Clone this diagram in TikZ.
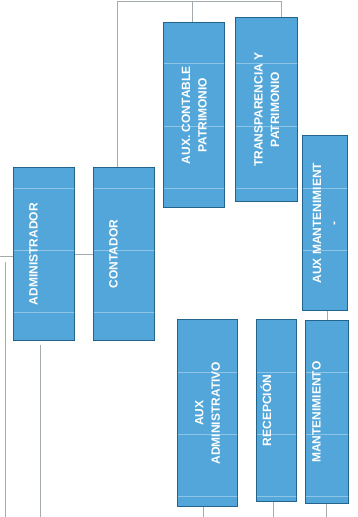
\documentclass[tikz,border=0pt]{standalone}
\usepackage{fontspec}
\setmainfont{Liberation Sans}
\definecolor{boxfill}{RGB}{82,166,217}
\definecolor{boxedge}{RGB}{34,100,140}
\definecolor{wire}{RGB}{165,172,176}
\begin{document}
\begin{tikzpicture}[x=1pt,y=-1pt,
  box/.style={draw=boxedge, fill=boxfill, line width=1.3pt, inner sep=0pt, anchor=north west},
  lbl/.style={rotate=90, text=white, align=center, font=\bfseries\fontsize{12}{16.5}\selectfont, inner sep=0pt},
  wirel/.style={draw=wire, line width=0.7pt},
  stripe/.style={draw=white, opacity=0.35, line width=0.9pt}]
\useasboundingbox (0,0) rectangle (358,517);
% boxes (north-west corner, size)
\node[box, minimum width=61, minimum height=173] (adm)  at (13,167) {};
\node[box, minimum width=61, minimum height=173] (cont) at (93,167) {};
\node[box, minimum width=61, minimum height=185] (auxc) at (163,22) {};
\node[box, minimum width=62, minimum height=184] (trans) at (235,17) {};
\node[box, minimum width=45, minimum height=175] (auxm) at (302,135) {};
\node[box, minimum width=60, minimum height=187] (auxa) at (177,319) {};
\node[box, minimum width=40, minimum height=182] (rec)  at (256,319) {};
\node[box, minimum width=43, minimum height=183] (mant) at (305,320) {};
% faint scan stripes
\foreach \n in {adm,cont,auxc,trans,auxm,auxa,rec,mant}{
  \begin{scope}
    \clip ([shift={(1,-1)}]\n.south west) rectangle ([shift={(-1,1)}]\n.north east);
    \foreach \yy in {63,126,188,250,312,372,434,496}
      \draw[stripe] (\n.west |- 0,\yy) -- (\n.east |- 0,\yy);
  \end{scope}
}
% labels
\node[lbl] (admt)   at (adm.center)   {ADMINISTRADOR\\ \strut};
\node[lbl] (contt)  at (cont.center)  {CONTADOR\\ \strut};
\node[lbl] (auxct)  at (auxc.center)  {AUX. CONTABLE\\PATRIMONIO};
\node[lbl] (transt) at (trans.center) {TRANSPARENCIA Y\\PATRIMONIO};
\node[lbl] (auxmt)  at (auxm.center)  {AUX MANTENIMIENT\\-};
\node[lbl] (auxat)  at (auxa.center)  {AUX\\ADMINISTRATIVO};
\node[lbl] (rect)   at (rec.center)   {RECEPCIÓN\\ \strut};
\node[lbl] (mantt)  at (mant.center)  {MANTENIMIENTO\\ \strut};
% connectors
\coordinate (tl) at (117,1);
\coordinate (tr) at (281,1);
\coordinate (tm) at (192,1);
\draw[wirel] (cont.north -| tl) -- (tl) -- (tr) -- (trans.north -| tr);
\draw[wirel] (tm) -- (auxc.north -| tm);
\coordinate (lh) at (0,256);
\draw[wirel] (lh) -- (adm.west |- lh);
\coordinate (mh) at (0,254);
\draw[wirel] (adm.east |- mh) -- (cont.west |- mh);
\coordinate (lv1) at (5,262);
\coordinate (lv2) at (5,517);
\draw[wirel] (lv1) -- (lv2);
\coordinate (av) at (40,345);
\coordinate (ab) at (40,517);
\draw[wirel] (av) -- (ab);
\coordinate (mv) at (327,0);
\draw[wirel] (auxm.south -| mv) -- (mant.north -| mv);
\coordinate (b1) at (203,517);
\coordinate (b2) at (273,517);
\coordinate (b3) at (326,517);
\draw[wirel] (auxa.south -| b1) -- (b1);
\draw[wirel] (rec.south -| b2) -- (b2);
\draw[wirel] (mant.south -| b3) -- (b3);
\end{tikzpicture}
\end{document}
